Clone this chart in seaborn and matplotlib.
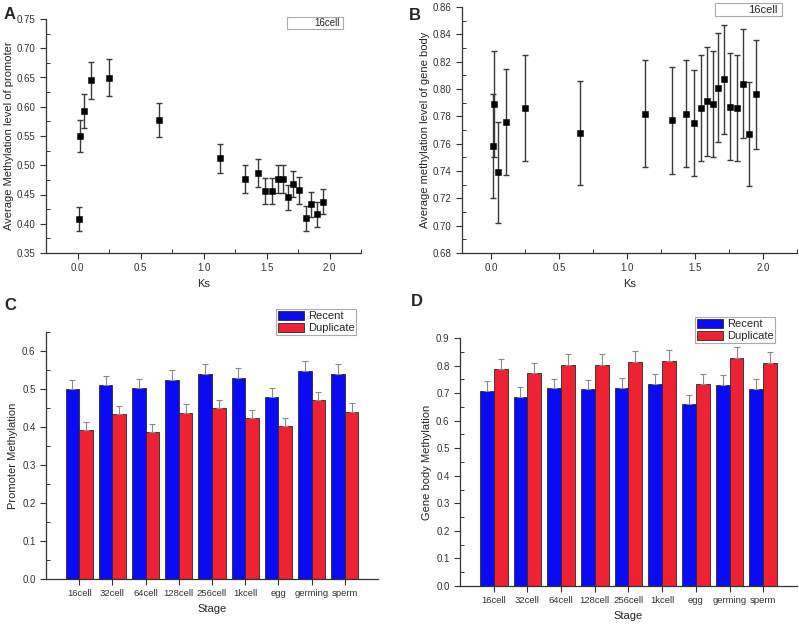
import pandas as pd
import seaborn as sns
import matplotlib.pyplot as plt
import numpy as np
from matplotlib.ticker import AutoMinorLocator, MultipleLocator
from matplotlib.patches import Rectangle

# Ks bins (x) shared by panels A and B
ks = [0.01, 0.02, 0.05, 0.11, 0.25, 0.65, 1.13, 1.33, 1.43, 1.49,
      1.54, 1.59, 1.63, 1.67, 1.71, 1.76, 1.81, 1.85, 1.90, 1.95]

# panel A: promoter methylation
prom_ks = [0.408, 0.550, 0.592, 0.645, 0.650, 0.578, 0.512, 0.477, 0.487, 0.456,
           0.456, 0.477, 0.476, 0.445, 0.468, 0.457, 0.409, 0.433, 0.416, 0.438]
prom_ks_err = [0.020, 0.027, 0.029, 0.032, 0.032, 0.029, 0.025, 0.024, 0.024, 0.023,
               0.023, 0.024, 0.024, 0.022, 0.023, 0.023, 0.021, 0.022, 0.021, 0.022]

# panel B: gene body methylation
body_ks = [0.758, 0.789, 0.739, 0.776, 0.786, 0.768, 0.782, 0.777, 0.782, 0.775,
           0.786, 0.791, 0.789, 0.801, 0.807, 0.787, 0.786, 0.804, 0.767, 0.796]
body_ks_err = [0.038, 0.039, 0.037, 0.039, 0.039, 0.038, 0.039, 0.039, 0.039, 0.039,
               0.039, 0.040, 0.039, 0.040, 0.040, 0.039, 0.039, 0.040, 0.038, 0.040]

# panels C and D
stages = ['16cell', '32cell', '64cell', '128cell', '256cell', '1kcell', 'egg', 'germing', 'sperm']
prom_recent = [0.500, 0.510, 0.502, 0.525, 0.540, 0.528, 0.478, 0.547, 0.540]
prom_dup = [0.393, 0.434, 0.388, 0.438, 0.449, 0.423, 0.403, 0.470, 0.440]
prom_recent_err = [0.025, 0.025, 0.025, 0.026, 0.026, 0.026, 0.024, 0.026, 0.026]
prom_dup_err = [0.020, 0.022, 0.020, 0.022, 0.022, 0.021, 0.020, 0.023, 0.022]

body_recent = [0.709, 0.687, 0.717, 0.714, 0.720, 0.732, 0.661, 0.728, 0.716]
body_dup = [0.786, 0.773, 0.802, 0.803, 0.812, 0.818, 0.733, 0.826, 0.808]
body_recent_err = [0.035, 0.034, 0.035, 0.035, 0.036, 0.037, 0.033, 0.036, 0.035]
body_dup_err = [0.039, 0.038, 0.039, 0.040, 0.040, 0.040, 0.037, 0.041, 0.040]

sns.set_style('ticks')
plt.rcParams['font.family'] = ['Liberation Sans', 'DejaVu Sans']

fig = plt.figure(figsize=(7.99, 6.25), dpi=100)
axA = fig.add_axes([0.0576, 0.5952, 0.3943, 0.3744])
axB = fig.add_axes([0.5782, 0.5952, 0.4193, 0.3936])
axC = fig.add_axes([0.0576, 0.0736, 0.4155, 0.3952])
axD = fig.add_axes([0.5757, 0.0624, 0.4218, 0.3968])


def style_axis(ax):
    sns.despine(ax=ax)
    for s in ['left', 'bottom']:
        ax.spines[s].set_linewidth(0.9)
        ax.spines[s].set_color('#333333')
    ax.tick_params(which='major', direction='out', length=4, width=0.8, labelsize=7, colors='#333333')
    ax.tick_params(which='minor', direction='in', length=3, width=0.7, colors='#333333')


def scatter_panel(ax, y, err, ylim, ystep, ylabel, xlim, box, fs):
    df = pd.DataFrame({'Ks': ks, 'val': y})
    ax.errorbar(ks, y, yerr=err, fmt='none', ecolor='#3a3a3a', elinewidth=1.0, capsize=2.5, capthick=1.0, zorder=2)
    sns.scatterplot(data=df, x='Ks', y='val', ax=ax, marker='s', color='black', s=22, edgecolor='black', zorder=3)
    ax.set_xlim(*xlim)
    ax.set_ylim(*ylim)
    ax.xaxis.set_major_locator(MultipleLocator(0.5))
    ax.xaxis.set_minor_locator(AutoMinorLocator(2))
    ax.yaxis.set_major_locator(MultipleLocator(ystep))
    ax.yaxis.set_minor_locator(AutoMinorLocator(2))
    ax.yaxis.set_major_formatter(plt.FormatStrFormatter('%.2f'))
    ax.xaxis.set_major_formatter(plt.FormatStrFormatter('%.1f'))
    ax.set_xlabel('Ks', fontsize=8)
    ax.set_ylabel(ylabel, fontsize=8, labelpad=2)
    style_axis(ax)
    x0, y0, x1, y1 = box
    ax.add_patch(Rectangle((x0, y0), x1 - x0, y1 - y0, transform=ax.transAxes, clip_on=False,
                           facecolor='white', edgecolor='#aaaaaa', linewidth=0.8))
    ax.text(x1 - 0.012, (y0 + y1) / 2, '16cell', transform=ax.transAxes, ha='right', va='center',
            fontsize=fs)


scatter_panel(axA, prom_ks, prom_ks_err, (0.35, 0.75), 0.05,
              'Average Methylation level of promoter', (-0.25, 2.25), (0.765, 0.957, 0.943, 1.009), 7)
scatter_panel(axB, body_ks, body_ks_err, (0.68, 0.86), 0.02,
              'Average methylation level of gene body', (-0.215, 2.25), (0.755, 0.963, 0.955, 1.016), 8)


def bar_panel(ax, recent, dup, recent_err, dup_err, ylim, ylabel, anchor):
    df = pd.DataFrame({'Stage': stages * 2,
                       'val': recent + dup,
                       'group': ['Recent'] * len(stages) + ['Duplicate'] * len(stages)})
    sns.barplot(data=df, x='Stage', y='val', hue='group', ax=ax, errorbar=None, width=0.82,
                palette={'Recent': '#0a0af5', 'Duplicate': '#ee2233'}, edgecolor='#2a2a2a', linewidth=0.6,
                saturation=1)
    for cont, errs in zip(ax.containers, [recent_err, dup_err]):
        xs = [b.get_x() + b.get_width() / 2 for b in cont]
        hs = [b.get_height() for b in cont]
        ax.errorbar(xs, hs, yerr=[np.zeros(len(errs)), errs], fmt='none', ecolor='#8a8a8a',
                    elinewidth=0.8, capsize=2, capthick=0.8, zorder=3)
    ax.set_xlim(-1, 9)
    ax.set_ylim(*ylim)
    ax.yaxis.set_major_locator(MultipleLocator(0.1))
    ax.yaxis.set_minor_locator(AutoMinorLocator(2))
    ax.yaxis.set_major_formatter(plt.FormatStrFormatter('%.1f'))
    ax.set_xlabel('Stage', fontsize=8)
    ax.set_ylabel(ylabel, fontsize=8, labelpad=3)
    style_axis(ax)
    ax.tick_params(axis='x', labelsize=6.8)
    leg = ax.legend(loc='upper right', bbox_to_anchor=anchor, borderaxespad=0, fontsize=8,
                    handlelength=2.4, handleheight=0.9, handletextpad=0.3, labelspacing=0.15,
                    borderpad=0.15, fancybox=False, framealpha=1, edgecolor='#aaaaaa')
    leg.get_frame().set_linewidth(0.8)


bar_panel(axC, prom_recent, prom_dup, prom_recent_err, prom_dup_err, (0, 0.65),
          'Promoter Methylation', (0.934, 1.093))
bar_panel(axD, body_recent, body_dup, body_recent_err, body_dup_err, (0, 0.9),
          'Gene body Methylation', (0.935, 1.085))

for lbl, x, y in [('A', 0.004, 0.977), ('B', 0.512, 0.976), ('C', 0.006, 0.512), ('D', 0.514, 0.517)]:
    fig.text(x, y, lbl, fontsize=12, fontweight='bold', va='center')

plt.savefig('out.png', dpi=100)
